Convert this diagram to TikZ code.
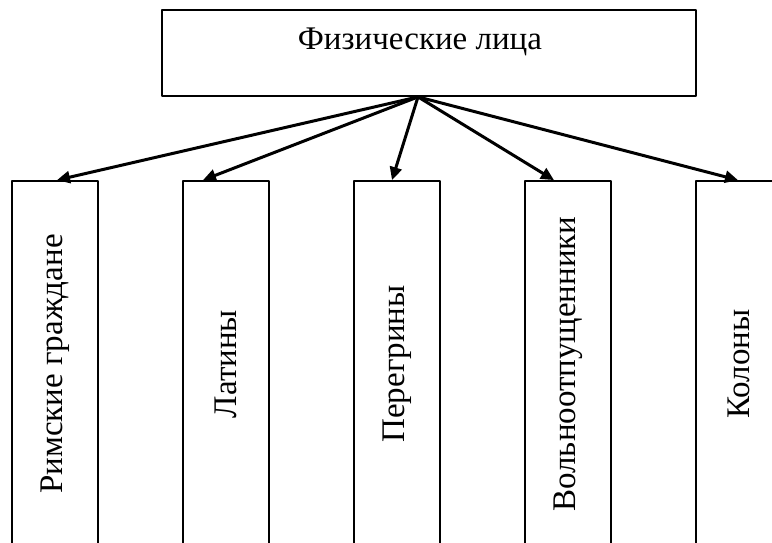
\documentclass[tikz,border=0pt]{standalone}
\usepackage{fontspec}
\setmainfont{Liberation Serif}
\usetikzlibrary{arrows.meta}
\tikzset{
  topbox/.style={draw, line width=1.8pt, minimum width=534pt, inner xsep=0pt,
    inner ysep=14pt, text height=26pt, text depth=32pt},
  colbox/.style={draw, line width=1.8pt, minimum width=86pt, minimum height=366pt,
    inner sep=0pt},
  link/.style={line width=3pt, -{Triangle[length=13pt,width=12pt]}}
}
\begin{document}
\begin{tikzpicture}[x=1pt, y=-1pt, font=\fontsize{33}{40}\selectfont, line join=round]
  \useasboundingbox (0,0) rectangle (772,543);
  \clip (0,0) rectangle (772,543);
  % верхний блок
  \node[topbox] (fl) at (429,53) {Физические лица\hspace*{18pt}};
  \coordinate (src) at ([xshift=-11pt]fl.south);
  % нижние блоки
  \foreach \n/\x/\t in {1/55/Римские граждане, 2/226/Латины, 3/397/Перегрины,
                        4/568/Вольноотпущенники, 5/739/Колоны}
    \node[colbox] (b\n) at (\x,364) {\rotatebox{90}{\t}};
  % стрелки
  \foreach \n/\d in {1/2, 2/-23, 3/-5, 4/-14, 5/-1}
    \draw[link] (src) -- ([xshift=\d pt]b\n.north);
\end{tikzpicture}
\end{document}
